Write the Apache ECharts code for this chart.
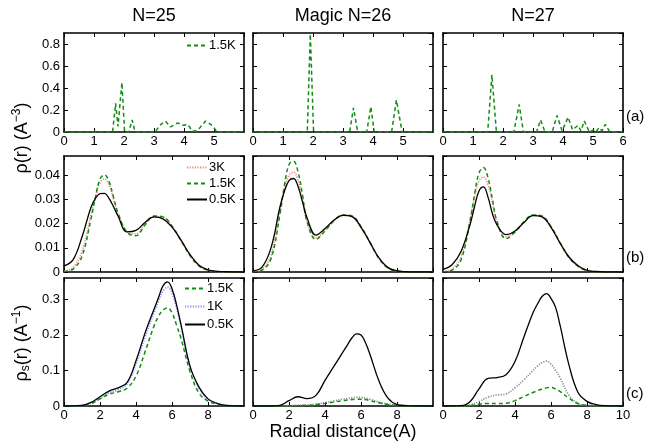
<!DOCTYPE html>
<html>
<head>
<meta charset="utf-8">
<script src="https://cdn.jsdelivr.net/npm/echarts@6/dist/echarts.min.js"></script>
<style>
html,body{margin:0;padding:0;background:#fff}
#chart{width:645px;height:443px}
</style>
</head>
<body>
<div id="chart"></div>
<script>
// Cluster columns and row tags
const clusters = ['N=25', 'Magic N=26', 'N=27'];
const rowTags = ['(a)', '(b)', '(c)'];

// Row (a): radial density at 1.5K, [r, rho]
const rhoA25 = [[0,0],[1.62,0],[1.72,0.26],[1.8,0.05],[1.93,0.45],[2.02,0],[2.16,0],[2.27,0.11],[2.37,0],
  [3.04,0],[3.19,0.06],[3.38,0.10],[3.55,0.046],[3.79,0.083],[3.97,0.062],[4.13,0.068],[4.27,0.01],
  [4.44,0.01],[4.55,0.046],[4.72,0.099],[4.94,0.06],[5.1,0],[6,0]];
const rhoA26 = [[0,0],[1.81,0],[1.91,0.89],[2.02,0],[3.22,0],[3.35,0.22],[3.49,0],[3.79,0],[3.93,0.23],
  [4.04,0],[4.62,0],[4.78,0.29],[4.97,0],[6,0]];
const rhoA27 = [[0,0],[1.49,0],[1.63,0.52],[1.78,0],[2.36,0],[2.54,0.25],[2.68,0],[3.12,0],[3.25,0.11],
  [3.4,0],[3.64,0],[3.8,0.15],[3.97,0.01],[4.17,0.135],[4.32,0.02],[4.5,0.06],[4.6,0.01],[4.71,0.10],
  [4.88,0],[5.02,0.02],[5.1,0],[5.2,0.04],[5.3,0.01],[5.41,0.07],[5.56,0],[6,0]];

// Row (b): radial density, common r grid
const rB = [0,0.5,1,1.5,1.75,2,2.25,2.5,2.75,3,3.5,4,4.5,5,5.5,6,6.5,7,7.5,8,8.5,9,10];
const rhoB25_3K  = [0.0003,0.0018,0.0085,0.0235,0.031,0.037,0.0385,0.036,0.030,0.024,0.0168,0.0158,0.0198,0.0228,0.0226,0.0189,0.0131,0.007,0.0026,0.0008,0.0002,0,0];
const rhoB25_15K = [0.0002,0.0012,0.0065,0.022,0.031,0.0385,0.0402,0.0375,0.031,0.0245,0.0165,0.015,0.0195,0.0232,0.0228,0.019,0.013,0.0068,0.0025,0.0007,0.0002,0,0];
const rhoB25_05K = [0.0025,0.005,0.0145,0.0268,0.0305,0.0324,0.0325,0.0305,0.027,0.0232,0.0166,0.0172,0.0205,0.0228,0.022,0.0186,0.0132,0.0072,0.0028,0.0009,0.0003,0.0001,0];
const rhoB26_3K  = [0.0002,0.0012,0.007,0.0255,0.0345,0.040,0.0413,0.038,0.030,0.021,0.0142,0.0172,0.0212,0.0235,0.023,0.0186,0.0122,0.0057,0.0017,0.0004,0.0001,0,0];
const rhoB26_15K = [0.0001,0.0008,0.0055,0.024,0.036,0.0445,0.0458,0.0415,0.032,0.021,0.0135,0.017,0.0212,0.0236,0.0232,0.0188,0.0122,0.0056,0.0016,0.0004,0.0001,0,0];
const rhoB26_05K = [0.0005,0.002,0.010,0.027,0.0335,0.0378,0.0387,0.0355,0.029,0.0225,0.0153,0.018,0.0215,0.0234,0.0229,0.0185,0.0122,0.0058,0.0018,0.0005,0.0001,0,0];
const rhoB27_3K  = [0.0002,0.0012,0.0065,0.0215,0.031,0.0378,0.0393,0.036,0.0285,0.0205,0.0145,0.0167,0.0207,0.0235,0.023,0.0187,0.0121,0.006,0.0025,0.0006,0.0001,0,0];
const rhoB27_15K = [0.0001,0.0008,0.005,0.021,0.032,0.041,0.0432,0.039,0.030,0.021,0.0138,0.0165,0.0208,0.0236,0.0232,0.0188,0.0122,0.006,0.0024,0.0006,0.0001,0,0];
const rhoB27_05K = [0.0011,0.003,0.0085,0.0195,0.027,0.0335,0.0352,0.031,0.024,0.0195,0.0155,0.017,0.0205,0.0233,0.0228,0.0185,0.012,0.0062,0.0026,0.0007,0.0002,0,0];

// Row (c): superfluid density, common r grid
const rC = [0,1,1.5,2,2.5,3,3.5,4,4.5,5,5.25,5.5,5.75,6,6.25,6.5,7,7.5,8,8.5,9,10];
const rhoC25_15K = [0,0.001,0.006,0.02,0.033,0.04,0.05,0.084,0.152,0.225,0.252,0.27,0.276,0.262,0.228,0.19,0.097,0.036,0.014,0.005,0.001,0];
const rhoC25_1K  = [0,0.0015,0.008,0.022,0.037,0.046,0.062,0.118,0.195,0.262,0.295,0.323,0.334,0.318,0.276,0.225,0.11,0.05,0.019,0.007,0.002,0];
const rhoC25_05K = [0,0.002,0.01,0.026,0.042,0.051,0.066,0.127,0.205,0.272,0.305,0.338,0.349,0.33,0.285,0.229,0.112,0.053,0.02,0.0075,0.002,0];
const rhoC26_15K = [0,0,0,0.0005,0.001,0.002,0.004,0.007,0.011,0.015,0.017,0.018,0.019,0.019,0.018,0.015,0.009,0.004,0.0015,0.0005,0,0];
const rhoC26_1K  = [0,0,0,0.001,0.002,0.003,0.005,0.009,0.014,0.019,0.021,0.023,0.024,0.024,0.022,0.019,0.011,0.005,0.002,0.001,0,0];
const rhoC26_05K = [0,0,0.002,0.015,0.026,0.021,0.03,0.072,0.112,0.152,0.172,0.192,0.203,0.2,0.178,0.145,0.07,0.022,0.004,0.001,0,0];
const rhoC27_15K = [0,0,0.001,0.005,0.007,0.007,0.008,0.015,0.027,0.038,0.043,0.048,0.051,0.052,0.048,0.041,0.022,0.007,0.002,0.001,0,0];
const rhoC27_1K  = [0,0,0.003,0.012,0.025,0.031,0.034,0.051,0.074,0.1,0.112,0.122,0.126,0.118,0.1,0.08,0.03,0.007,0.002,0.0005,0,0];
const rhoC27_05K = [0,0.001,0.012,0.048,0.078,0.08,0.088,0.125,0.195,0.262,0.287,0.308,0.316,0.303,0.278,0.228,0.115,0.038,0.013,0.004,0.001,0];

const FONT = 'Liberation Sans, Arial, Helvetica, sans-serif';
const zip = (xs, ys) => xs.map((x, i) => [x, ys[i]]);

// Panel geometry
const colLeft = [64, 253, 443];
const colW = 180;
const rowTop = [33, 156, 278];
const rowH = [99, 116, 128];

const xCfg = [
  { min: 0, max: 6, interval: 1, labels: true },
  { min: 0, max: 10, interval: 2, labels: false },
  { min: 0, max: 10, interval: 2, labels: true }
];
const yCfg = [
  { min: 0, max: 0.9, interval: 0.2 },
  { min: 0, max: 0.048, interval: 0.01 },
  { min: 0, max: 0.36, interval: 0.1 }
];

const frame = { show: true, onZero: false, lineStyle: { color: '#000', width: 1.6 } };
const tick = { show: true, inside: true, length: 4, lineStyle: { color: '#000', width: 1 } };
const labelText = { color: '#000', fontSize: 13, fontFamily: FONT };

const grids = [], xAxes = [], yAxes = [];
for (let row = 0; row < 3; row++) {
  for (let col = 0; col < 3; col++) {
    grids.push({ left: colLeft[col], top: rowTop[row], width: colW, height: rowH[row], containLabel: false });
    const gi = row * 3 + col;
    const xc = xCfg[row], yc = yCfg[row];
    xAxes.push({
      type: 'value', gridIndex: gi, position: 'bottom', min: xc.min, max: xc.max, interval: xc.interval,
      axisLine: frame, axisTick: tick, splitLine: { show: false },
      axisLabel: Object.assign({ show: xc.labels, margin: 3, showMaxLabel: col === 2 }, labelText)
    });
    xAxes.push({
      type: 'value', gridIndex: gi, position: 'top', min: xc.min, max: xc.max, interval: xc.interval,
      axisLine: frame, axisTick: tick, splitLine: { show: false }, axisLabel: { show: false }
    });
    yAxes.push({
      type: 'value', gridIndex: gi, position: 'left', min: yc.min, max: yc.max, interval: yc.interval,
      axisLine: frame, axisTick: tick, splitLine: { show: false },
      axisLabel: Object.assign({ show: col === 0, margin: 4, showMaxLabel: false }, labelText)
    });
    yAxes.push({
      type: 'value', gridIndex: gi, position: 'right', min: yc.min, max: yc.max, interval: yc.interval,
      axisLine: frame, axisTick: tick, splitLine: { show: false }, axisLabel: { show: false }
    });
  }
}

// Line styles per temperature
const GREEN = '#128c12';
const sty = {
  '1.5K': { color: GREEN, width: 1.5, type: [4, 3] },
  '0.5K': { color: '#000', width: 1.3, type: 'solid' },
  '3K':   { color: '#f08a8a', width: 1.7, type: [1.2, 1.4] },
  '1K':   { color: '#8c8cf2', width: 1.7, type: [1.2, 1.4] },
  '1Kg':  { color: '#8e8e8e', width: 1.7, type: [1.2, 1.4] }
};

function line(name, gi, data, styleKey, smooth) {
  const s = sty[styleKey];
  return {
    type: 'line', name: name, xAxisIndex: 2 * gi, yAxisIndex: 2 * gi, data: data,
    symbol: 'none', showSymbol: false, smooth: smooth, silent: true,
    lineStyle: s, itemStyle: { color: s.color }
  };
}

const series = [
  // (a)
  line('1.5K', 0, rhoA25, '1.5K', false),
  line('1.5K', 1, rhoA26, '1.5K', false),
  line('1.5K', 2, rhoA27, '1.5K', false),
  // (b)
  line('3K', 3, zip(rB, rhoB25_3K), '3K', 0.4),
  line('1.5K', 3, zip(rB, rhoB25_15K), '1.5K', 0.4),
  line('0.5K', 3, zip(rB, rhoB25_05K), '0.5K', 0.4),
  line('3K', 4, zip(rB, rhoB26_3K), '3K', 0.4),
  line('1.5K', 4, zip(rB, rhoB26_15K), '1.5K', 0.4),
  line('0.5K', 4, zip(rB, rhoB26_05K), '0.5K', 0.4),
  line('3K', 5, zip(rB, rhoB27_3K), '3K', 0.4),
  line('1.5K', 5, zip(rB, rhoB27_15K), '1.5K', 0.4),
  line('0.5K', 5, zip(rB, rhoB27_05K), '0.5K', 0.4),
  // (c)
  line('1K', 6, zip(rC, rhoC25_1K), '1K', 0.4),
  line('1.5K', 6, zip(rC, rhoC25_15K), '1.5K', 0.4),
  line('0.5K', 6, zip(rC, rhoC25_05K), '0.5K', 0.4),
  line('1K', 7, zip(rC, rhoC26_1K), '1Kg', 0.4),
  line('1.5K', 7, zip(rC, rhoC26_15K), '1.5K', 0.4),
  line('0.5K', 7, zip(rC, rhoC26_05K), '0.5K', 0.4),
  line('1K', 8, zip(rC, rhoC27_1K), '1Kg', 0.4),
  line('1.5K', 8, zip(rC, rhoC27_15K), '1.5K', 0.4),
  line('0.5K', 8, zip(rC, rhoC27_05K), '0.5K', 0.4)
];

// legend keys: line sample only, no marker
const legendBase = {
  orient: 'vertical', itemWidth: 20, itemHeight: 12, padding: 0, selectedMode: false,
  itemStyle: { opacity: 0, borderWidth: 0 },
  textStyle: { color: '#000', fontSize: 13, fontFamily: FONT, padding: [0, 0, 0, -3] }
};

const graphics = [];
clusters.forEach((t, i) => {
  graphics.push({ type: 'text', x: colLeft[i] + colW / 2, y: 16,
    style: { text: t, fill: '#000', font: '18px ' + FONT, textAlign: 'center', textVerticalAlign: 'middle' } });
});
const tagY = [117, 258, 394];
rowTags.forEach((t, i) => {
  graphics.push({ type: 'text', x: 626, y: tagY[i],
    style: { text: t, fill: '#000', font: '15px ' + FONT, textAlign: 'left', textVerticalAlign: 'middle' } });
});
graphics.push({ type: 'text', x: 343, y: 432,
  style: { text: 'Radial distance(A)', fill: '#000', font: '18px ' + FONT, textAlign: 'center', textVerticalAlign: 'middle' } });
// rotated axis names with superscripts / subscripts
graphics.push({ type: 'text', x: 22, y: 138, rotation: Math.PI / 2,
  style: {
    text: '{n|ρ(r) (A}{sup|−3}{n|)}', textAlign: 'center', textVerticalAlign: 'middle',
    rich: {
      n: { fontSize: 18, fontFamily: FONT, fill: '#000', lineHeight: 22 },
      sup: { fontSize: 12, fontFamily: FONT, fill: '#000', lineHeight: 22, padding: [0, 0, 10, 0] }
    }
  } });
graphics.push({ type: 'text', x: 22, y: 343, rotation: Math.PI / 2,
  style: {
    text: '{n|ρ}{sub|s}{n|(r) (A}{sup|−1}{n|)}', textAlign: 'center', textVerticalAlign: 'middle',
    rich: {
      n: { fontSize: 18, fontFamily: FONT, fill: '#000', lineHeight: 22 },
      sub: { fontSize: 12, fontFamily: FONT, fill: '#000', lineHeight: 22, padding: [8, 0, 0, 0] },
      sup: { fontSize: 12, fontFamily: FONT, fill: '#000', lineHeight: 22, padding: [0, 0, 10, 0] }
    }
  } });

const chart = echarts.init(document.getElementById('chart'), null, { renderer: 'canvas' });
chart.setOption({
  animation: false,
  backgroundColor: '#fff',
  grid: grids,
  xAxis: xAxes,
  yAxis: yAxes,
  legend: [
    Object.assign({ left: 186, top: 39, data: ['1.5K'] }, legendBase),
    Object.assign({ left: 186, top: 161, itemGap: 3, data: ['3K', '1.5K', '0.5K'] }, legendBase),
    Object.assign({ left: 184, top: 282, itemGap: 5, data: ['1.5K', '1K', '0.5K'] }, legendBase)
  ],
  series: series,
  graphic: graphics
});
</script>
</body>
</html>
